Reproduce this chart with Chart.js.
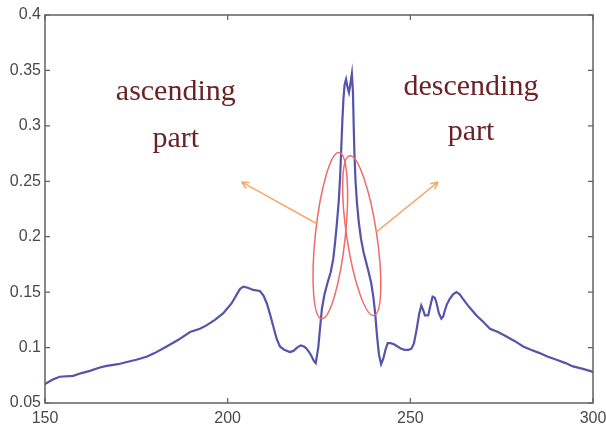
<!DOCTYPE html>
<html lang="en">
<head>
    <meta charset="UTF-8">
    <title>ascending / descending part</title>
    <style>
        html, body { margin: 0; padding: 0; background: #fff; }
        .chart-container { width: 606px; height: 429px; }
    </style>
    <script src="https://cdn.jsdelivr.net/npm/chart.js"></script>
</head>
<body>
    <div class="chart-container">
        <canvas id="profileChart"></canvas>
    </div>

    <script>
        // curve
        const xValues = [
            150, 152, 154, 157.7, 160, 162.3, 165, 166.9, 170, 172.4,
            175, 177.8, 180, 183.3, 186.5, 189.7, 192.4, 194.2, 196.5, 198.8,
            201.1, 202.5, 203.4, 204.3, 205.5, 207, 208.8, 209.8, 210.7, 211.6,
            212.5, 213.4, 214.3, 215.5, 217, 218, 219, 220, 220.9, 221.6,
            222.3, 223, 223.6, 224.1, 224.8, 225.3, 225.8, 226.5, 227.3, 228.2,
            228.9, 229.4, 229.9, 230.4, 230.8, 231.1, 231.4, 231.7, 232, 232.4,
            232.8, 233.2, 233.6, 234, 234.3, 234.5, 234.7, 235, 235.4, 235.9,
            236.5, 237.2, 237.9, 238.6, 239.3, 239.9, 240.4, 240.9, 241.4, 242,
            242.6, 243.2, 243.8, 244.6, 245.5, 246.5, 247.5, 248.5, 249.5, 250.3,
            251, 251.7, 252.4, 253, 253.5, 254, 254.9, 255.5, 256.1, 256.7,
            257.2, 257.8, 258.5, 259, 259.4, 260, 260.8, 261.7, 262.6, 263.5,
            264.4, 266, 268.1, 270, 271.8, 274, 276.3, 278.5, 280.9, 283,
            285.4, 287.5, 290, 292.5, 294.5, 297, 299.1, 300
        ];
        const yValues = [
            0.067, 0.071, 0.0737, 0.0745, 0.077, 0.079, 0.082, 0.0835, 0.085, 0.087,
            0.089, 0.0917, 0.095, 0.101, 0.107, 0.114, 0.117, 0.120, 0.125, 0.131,
            0.140, 0.148, 0.153, 0.155, 0.154, 0.152, 0.151, 0.147, 0.140, 0.130,
            0.119, 0.108, 0.101, 0.098, 0.096, 0.097, 0.100, 0.102, 0.101, 0.099,
            0.096, 0.092, 0.088, 0.086, 0.100, 0.118, 0.135, 0.148, 0.158, 0.168,
            0.180, 0.195, 0.212, 0.232, 0.255, 0.280, 0.305, 0.325, 0.337, 0.342,
            0.335, 0.330, 0.338, 0.347, 0.330, 0.300, 0.275, 0.250, 0.230, 0.213,
            0.198, 0.186, 0.177, 0.168, 0.158, 0.145, 0.130, 0.110, 0.094, 0.085,
            0.090, 0.098, 0.104, 0.104, 0.103, 0.101, 0.099, 0.098, 0.098, 0.099,
            0.104, 0.116, 0.130, 0.138, 0.134, 0.129, 0.129, 0.138, 0.146, 0.145,
            0.140, 0.131, 0.126, 0.128, 0.133, 0.139, 0.144, 0.148, 0.150, 0.148,
            0.144, 0.137, 0.129, 0.123, 0.117, 0.114, 0.110, 0.106, 0.101, 0.098,
            0.095, 0.092, 0.089, 0.086, 0.083, 0.081, 0.079, 0.078
        ];
        const xTicks = [150, 200, 250, 300];
        const yTicks = [0.05, 0.1, 0.15, 0.2, 0.25, 0.3, 0.35, 0.4];
        const yTickLabels = ['0.05', '0.1', '0.15', '0.2', '0.25', '0.3', '0.35', '0.4'];

        // annotations, in data units
        const labelTexts = [
            { text: 'ascending', x: 185.8, y: 0.323 },
            { text: 'part', x: 185.8, y: 0.2806 },
            { text: 'descending', x: 266.6, y: 0.3275 },
            { text: 'part', x: 266.6, y: 0.2869 }
        ];
        const ellipses = [
            { top: [230.5, 0.276], bottom: [225.7, 0.126] },
            { top: [233.4, 0.273], bottom: [240.0, 0.129] }
        ];
        const arrows = [
            { from: [224.3, 0.2119], to: [203.8, 0.2494] },
            { from: [240.75, 0.2043], to: [257.6, 0.2494] }
        ];

        const points = xValues.map((x, i) => ({ x: x, y: yValues[i] }));

        // box frame with inward ticks, like the original plot
        const framePlugin = {
            id: 'frame',
            afterDraw(chart) {
                const ctx = chart.ctx;
                const a = chart.chartArea;
                const xs = chart.scales.x;
                const ys = chart.scales.y;
                const len = 5;
                ctx.save();
                ctx.strokeStyle = '#606060';
                ctx.lineWidth = 1.5;
                ctx.strokeRect(a.left, a.top, a.right - a.left, a.bottom - a.top);
                ctx.lineWidth = 1.2;
                ctx.beginPath();
                xTicks.forEach(v => {
                    const px = xs.getPixelForValue(v);
                    ctx.moveTo(px, a.bottom); ctx.lineTo(px, a.bottom - len);
                    ctx.moveTo(px, a.top); ctx.lineTo(px, a.top + len);
                });
                yTicks.forEach(v => {
                    const py = ys.getPixelForValue(v);
                    ctx.moveTo(a.left, py); ctx.lineTo(a.left + len, py);
                    ctx.moveTo(a.right, py); ctx.lineTo(a.right - len, py);
                });
                ctx.stroke();
                ctx.restore();
            }
        };

        const notePlugin = {
            id: 'notes',
            afterDatasetsDraw(chart) {
                const ctx = chart.ctx;
                const xs = chart.scales.x;
                const ys = chart.scales.y;
                const px = p => [xs.getPixelForValue(p[0]), ys.getPixelForValue(p[1])];
                ctx.save();

                // red ellipses
                ctx.strokeStyle = '#f06a6a';
                ctx.lineWidth = 1.5;
                ellipses.forEach(e => {
                    const t = px(e.top);
                    const b = px(e.bottom);
                    const dx = b[0] - t[0];
                    const dy = b[1] - t[1];
                    const half = Math.sqrt(dx * dx + dy * dy) / 2;
                    ctx.beginPath();
                    ctx.ellipse((t[0] + b[0]) / 2, (t[1] + b[1]) / 2, 15, half, Math.atan2(-dx, dy), 0, Math.PI * 2);
                    ctx.stroke();
                });

                // orange arrows
                ctx.strokeStyle = '#f6a96b';
                ctx.lineWidth = 1.5;
                arrows.forEach(ar => {
                    const f = px(ar.from);
                    const t = px(ar.to);
                    const ang = Math.atan2(t[1] - f[1], t[0] - f[0]);
                    ctx.beginPath();
                    ctx.moveTo(f[0], f[1]);
                    ctx.lineTo(t[0], t[1]);
                    [0.45, -0.45].forEach(d => {
                        ctx.moveTo(t[0], t[1]);
                        ctx.lineTo(t[0] - 8 * Math.cos(ang + d), t[1] - 8 * Math.sin(ang + d));
                    });
                    ctx.stroke();
                });

                // text
                ctx.fillStyle = '#6b2226';
                ctx.font = '30px "Liberation Serif", "Times New Roman", serif';
                ctx.textAlign = 'center';
                ctx.textBaseline = 'alphabetic';
                labelTexts.forEach(l => {
                    const p = px([l.x, l.y]);
                    ctx.fillText(l.text, p[0], p[1]);
                });
                ctx.restore();
            }
        };

        const tickFont = { family: '"Liberation Sans", Arial, sans-serif', size: 16 };

        new Chart(document.getElementById('profileChart').getContext('2d'), {
            type: 'line',
            data: {
                datasets: [{
                    data: points,
                    borderColor: 'rgb(84, 84, 172)',
                    borderWidth: 2.2,
                    pointRadius: 0,
                    tension: 0,
                    fill: false
                }]
            },
            options: {
                responsive: true,
                maintainAspectRatio: false,
                animation: false,
                layout: { padding: { top: 15, right: 13, left: 0, bottom: 0 } },
                plugins: {
                    legend: { display: false },
                    tooltip: { enabled: false }
                },
                scales: {
                    x: {
                        type: 'linear',
                        min: 150,
                        max: 300,
                        afterBuildTicks: s => { s.ticks = xTicks.map(v => ({ value: v })); },
                        afterFit: s => {
                            s.height = 26;
                            s.paddingLeft = 0;
                            s.paddingRight = 0;
                        },
                        grid: { display: false, drawTicks: false },
                        border: { display: false },
                        ticks: {
                            autoSkip: false,
                            maxRotation: 0,
                            padding: 6,
                            color: '#4a4a4a',
                            font: tickFont,
                            callback: v => String(v)
                        }
                    },
                    y: {
                        min: 0.05,
                        max: 0.4,
                        afterBuildTicks: s => { s.ticks = yTicks.map(v => ({ value: v })); },
                        afterFit: s => {
                            s.width = 45;
                            s.paddingTop = 0;
                            s.paddingBottom = 0;
                        },
                        grid: { display: false, drawTicks: false },
                        border: { display: false },
                        ticks: {
                            autoSkip: false,
                            padding: 4,
                            color: '#4a4a4a',
                            font: tickFont,
                            callback: (v, i) => yTickLabels[i]
                        }
                    }
                }
            },
            plugins: [framePlugin, notePlugin]
        });
    </script>
</body>
</html>
